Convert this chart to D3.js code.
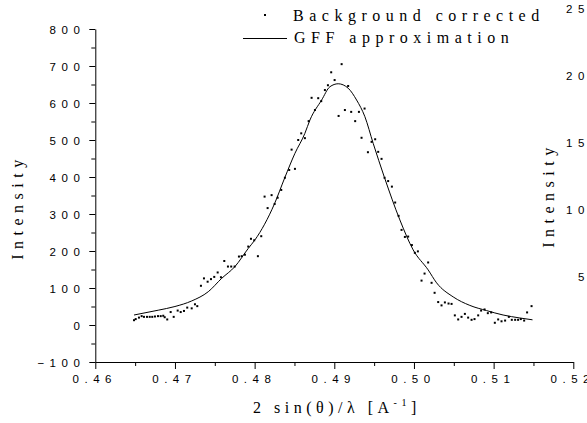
<!DOCTYPE html>
<html>
<head>
<meta charset="utf-8">
<script src="https://cdn.jsdelivr.net/npm/d3@7"></script>
<style>
body { margin: 0; background: #fff; }
svg { display: block; }
</style>
</head>
<body>
<svg id="chart" width="587" height="423"></svg>
<script>
// measured points (background corrected)
var pointX = [0.46486, 0.46507, 0.46548, 0.46582, 0.46611, 0.46649, 0.46683, 0.46715, 0.46749, 0.46787,
  0.46821, 0.46853, 0.46871, 0.46903, 0.46946, 0.46984, 0.47034, 0.47072, 0.47113, 0.47154,
  0.47210, 0.47251, 0.47280, 0.47326, 0.47364, 0.47410, 0.47452, 0.47493, 0.47536, 0.47577,
  0.47619, 0.47665, 0.47706, 0.47749, 0.47803, 0.47837, 0.47878, 0.47920, 0.47954, 0.47995,
  0.48041, 0.48083, 0.48125, 0.48163, 0.48213, 0.48251, 0.48289, 0.48334, 0.48380, 0.48434,
  0.48464, 0.48506, 0.48547, 0.48585, 0.48631, 0.48678, 0.48715, 0.48757, 0.48798, 0.48836,
  0.48882, 0.48920, 0.48961, 0.49004, 0.49054, 0.49092, 0.49133, 0.49174, 0.49212, 0.49262,
  0.49309, 0.49342, 0.49380, 0.49422, 0.49468, 0.49513, 0.49551, 0.49593, 0.49631, 0.49676,
  0.49723, 0.49764, 0.49807, 0.49844, 0.49886, 0.49927, 0.49974, 0.50011, 0.50049, 0.50095,
  0.50133, 0.50178, 0.50221, 0.50259, 0.50304, 0.50346, 0.50388, 0.50434, 0.50472, 0.50513,
  0.50555, 0.50597, 0.50639, 0.50680, 0.50723, 0.50760, 0.50806, 0.50843, 0.50886, 0.50927,
  0.50969, 0.51015, 0.51057, 0.51099, 0.51144, 0.51191, 0.51228, 0.51270, 0.51307, 0.51341,
  0.51383, 0.51420, 0.51476];
var pointY = [13, 16, 20, 24, 22, 22, 22, 22, 23, 24,
  24, 25, 21, 15, 35, 22, 39, 35, 38, 47,
  45, 56, 51, 106, 126, 117, 124, 130, 142, 129,
  173, 158, 158, 158, 185, 186, 190, 212, 233, 229,
  186, 240, 347, 316, 351, 327, 344, 365, 398, 419,
  474, 422, 500, 518, 505, 551, 614, 581, 613, 605,
  635, 648, 683, 662, 565, 705, 581, 646, 576, 551,
  576, 506, 585, 467, 495, 502, 468, 449, 398, 389,
  374, 331, 295, 257, 238, 239, 216, 195, 199, 120,
  139, 169, 114, 87, 62, 53, 61, 58, 57, 26,
  15, 22, 30, 20, 14, 16, 26, 39, 42, 32,
  34, 6, 15, 10, 12, 22, 14, 14, 14, 16,
  12, 34, 51];

// GFF fit curve
var fitX = [0.46486, 0.46790, 0.47000, 0.47210, 0.47418, 0.47586, 0.47753, 0.47920, 0.48004, 0.48246,
  0.48380, 0.48506, 0.48631, 0.48694, 0.48841, 0.48945, 0.49049, 0.49174, 0.49280, 0.49384,
  0.49488, 0.49626, 0.49823, 0.49990, 0.50178, 0.50284, 0.50492, 0.50701, 0.50911, 0.51119,
  0.51329, 0.51488];
var fitY = [27, 40, 50, 65, 90, 126, 158, 207, 230, 326,
  399, 464, 518, 554, 608, 644, 652, 640, 608, 563,
  491, 401, 284, 203, 149, 114, 76, 53, 39, 27,
  19, 14];

var xTicks = [0.46, 0.47, 0.48, 0.49, 0.50, 0.51, 0.52];
var yTicks = [-100, 0, 100, 200, 300, 400, 500, 600, 700, 800];
// leftover labels of the second panel, cut at the right edge
var ghostTicks = [5, 10, 15, 20, 25];

var sansFont = '"Liberation Sans", Arial, sans-serif';
var serifFont = '"Liberation Serif", "Times New Roman", serif';

var svg = d3.select('#chart');
var x = d3.scaleLinear().domain([0.46, 0.52]).range([95.3, 573.3]);
var y = d3.scaleLinear().domain([-100, 800]).range([362, 29]);
var yGhost = d3.scaleLinear().domain([0, 25]).range([344, 9]);

function tickStyle(sel) {
    sel.style('font-family', sansFont)
        .style('font-size', '11.5px')
        .style('letter-spacing', '5.5px')
        .style('fill', '#000');
}
function serifStyle(sel, ls) {
    sel.style('font-family', serifFont)
        .style('font-size', '16px')
        .style('letter-spacing', ls || '5.5px')
        .style('fill', '#000');
}

// minor ticks
svg.append('g')
    .attr('transform', 'translate(0,362)')
    .call(d3.axisBottom(x).tickValues(d3.range(0.465, 0.52, 0.01)).tickSize(4).tickFormat(''))
    .call(g => g.select('.domain').remove());
svg.append('g')
    .attr('transform', 'translate(95.3,0)')
    .call(d3.axisLeft(y).tickValues(d3.range(-50, 800, 100)).tickSize(4).tickFormat(''))
    .call(g => g.select('.domain').remove());

// major axes
var xAxis = svg.append('g')
    .attr('transform', 'translate(0,362)')
    .call(d3.axisBottom(x).tickValues(xTicks).tickSize(7).tickSizeOuter(0).tickFormat(d3.format('.2f')));
xAxis.selectAll('text').attr('y', 21).attr('dy', 0).attr('dx', -1).call(tickStyle);

var yAxis = svg.append('g')
    .attr('transform', 'translate(95.3,0)')
    .call(d3.axisLeft(y).tickValues(yTicks).tickSize(6).tickSizeOuter(0));
yAxis.selectAll('text').attr('x', -10).attr('dy', '0.36em').call(tickStyle);

svg.selectAll('.domain, .tick line').attr('stroke', '#000').attr('stroke-width', 1);

// fit line
var line = d3.line()
    .x((d, i) => x(fitX[i]))
    .y((d, i) => y(fitY[i]))
    .curve(d3.curveMonotoneX);
svg.append('path')
    .datum(fitY)
    .attr('d', line)
    .attr('fill', 'none')
    .attr('stroke', '#000')
    .attr('stroke-width', 1);

// scatter
svg.append('g').selectAll('rect')
    .data(pointY)
    .enter().append('rect')
    .attr('x', (d, i) => x(pointX[i]) - 1)
    .attr('y', d => y(d) - 1)
    .attr('width', 2)
    .attr('height', 2)
    .attr('fill', '#000');

// axis titles
svg.append('text')
    .attr('transform', 'translate(23,207) rotate(-90)')
    .attr('text-anchor', 'middle')
    .call(serifStyle)
    .text('Intensity');

var xt = svg.append('text')
    .attr('x', 253).attr('y', 413)
    .call(serifStyle, '4.5px');
xt.append('tspan').text('2 sin(θ)/λ [A');
xt.append('tspan').style('font-size', '10px').attr('dy', -7).text('-1');
xt.append('tspan').attr('dy', 7).text(']');

// legend
svg.append('rect').attr('x', 264).attr('y', 14).attr('width', 2).attr('height', 2).attr('fill', '#000');
svg.append('text').attr('x', 293).attr('y', 20.5).call(serifStyle).text('Background corrected');
svg.append('line').attr('x1', 243).attr('x2', 287).attr('y1', 38.5).attr('y2', 38.5)
    .attr('stroke', '#000').attr('stroke-width', 1);
svg.append('text').attr('x', 294).attr('y', 42.5).call(serifStyle).text('GFF approximation');

// right-hand remnants
svg.append('g').selectAll('text')
    .data(ghostTicks)
    .enter().append('text')
    .attr('x', d => d < 10 ? 578 : 566)
    .attr('y', d => yGhost(d))
    .attr('dy', '0.36em')
    .call(tickStyle)
    .text(d => d);
svg.append('text')
    .attr('transform', 'translate(554,195) rotate(-90)')
    .attr('text-anchor', 'middle')
    .call(serifStyle)
    .text('Intensity');
</script>
</body>
</html>
